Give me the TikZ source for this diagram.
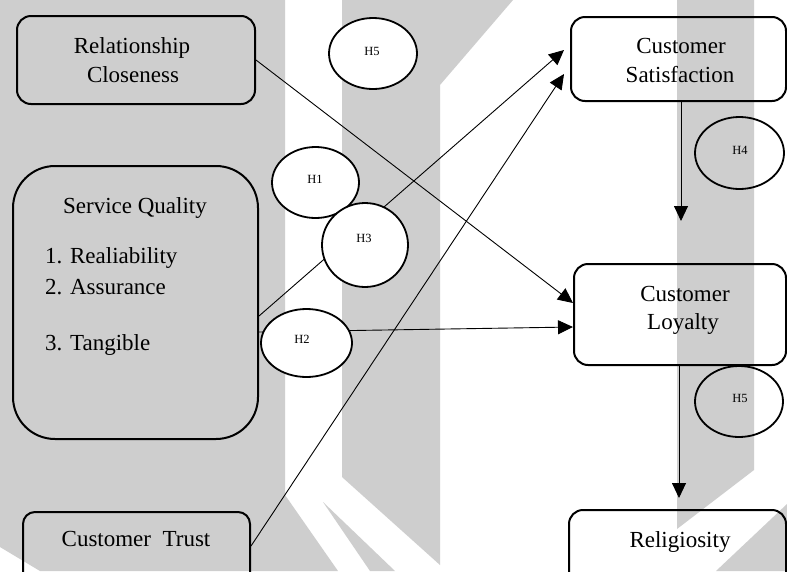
\documentclass[tikz,border=0pt]{standalone}
\usepackage{fontspec}
\setmainfont{Liberation Serif}
\usetikzlibrary{arrows.meta,shapes.geometric}
\definecolor{wmgray}{RGB}{206,206,206}
\begin{document}
\begin{tikzpicture}[x=1pt,y=-1pt,
  box/.style={draw, line width=2pt, rounded corners=14pt, inner sep=0pt, anchor=north west},
  txt/.style={font=\fontsize{23}{28}\selectfont, inner sep=0pt, anchor=base},
  hyp/.style={ellipse, draw, line width=1.8pt, inner sep=0pt},
  hlab/.style={font=\fontsize{12.5}{14}\selectfont, inner sep=0pt},
  conn/.style={draw, line width=0.9pt, -{Triangle[length=15pt,width=14pt]}}]
\useasboundingbox (0,0) rectangle (787,571);
\clip (0,0) rectangle (787,571);
\fill[white] (0,0) rectangle (787,571);

% watermark shapes in the background
\fill[wmgray] (0,0) -- (285,0) -- (285,495) -- (338,571) -- (40,571) -- (0,547) -- cycle;
\fill[wmgray] (342,0) -- (513,0) -- (440,85) -- (440,565) -- (342,477) -- cycle;
\fill[wmgray] (323,502) -- (370,571) -- (395,571) -- cycle;
\fill[wmgray] (677,0) -- (754,0) -- (754,470) -- (677,529) -- cycle;
\fill[wmgray] (787,504) -- (787,571) -- (716,571) -- cycle;

% construct boxes
\node[box, minimum width=238pt, minimum height=88pt] (rc) at (16,15) {};
\node[box, rounded corners=42pt, minimum width=245pt, minimum height=273pt] (sq) at (12,165) {};
\node[box, rounded corners=12pt, minimum width=227pt, minimum height=90pt] (ct) at (22,511) {};
\node[box, minimum width=215pt, minimum height=84pt] (cs) at (570,16) {};
\node[box, minimum width=212pt, minimum height=101pt] (cl) at (573,263) {};
\node[box, minimum width=217pt, minimum height=90pt] (rel) at (568,509) {};

% box texts
\node[txt] (rc1) at (132,53) {Relationship};
\node[txt] (rc2) at (133,82) {Closeness};
\node[txt] (sqt) at (135,213) {Service Quality};
\node[txt, anchor=base west] (sq1) at (45,263) {1. Realiability};
\node[txt, anchor=base west] (sq2) at (45,294) {2. Assurance};
\node[txt, anchor=base west] (sq3) at (45,350) {3. Tangible};
\node[txt] (ctt) at (136,546) {Customer\ \ Trust};
\node[txt] (cs1) at (681,53) {Customer};
\node[txt] (cs2) at (680,82) {Satisfaction};
\node[txt] (cl1) at (685,301) {Customer};
\node[txt] (cl2) at (683,329) {Loyalty};
\node[txt] (relt) at (680,547) {Religiosity};

% paths between constructs
\draw[conn] (rc.east) -- ([yshift=11.5pt]cl.west);
\draw[conn] ([yshift=-13.5pt]sq.east) -- ([xshift=-6pt,yshift=9pt]cs.west);
\draw[conn] ([yshift=-29.5pt]sq.east) -- ([yshift=-12.5pt]cl.west);
\draw[conn] ([yshift=11pt]ct.east) -- ([xshift=-6pt,yshift=-15pt]cs.west);
\draw[conn, shorten >=42pt] ([xshift=2.5pt]cs.south) -- ([xshift=1pt]cl.north);
\draw[conn, shorten >=11pt] ([xshift=-1pt]cl.south) -- ([xshift=1.5pt]rel.north);

% hypothesis ellipses
\node[hyp, fill=white, minimum width=88pt, minimum height=71pt] (h5a) at (373,53.5) {};
\node[hyp, fill=white, minimum width=87pt, minimum height=71pt] (h1) at (315.5,182.5) {};
\node[hyp, fill=white, minimum width=86pt, minimum height=84pt] (h3) at (365,245) {};
\node[hyp, fill=white, minimum width=91pt, minimum height=68pt] (h2) at (306.5,343) {};
\node[hyp, minimum width=89pt, minimum height=72pt] (h4) at (739.5,153) {};
\node[hyp, minimum width=88pt, minimum height=71pt] (h5b) at (739,401.5) {};

\node[hlab] (l5a) at (372,51) {H5};
\node[hlab] (l1) at (315,179) {H1};
\node[hlab] (l3) at (364,238) {H3};
\node[hlab] (l2) at (302,339) {H2};
\node[hlab] (l4) at (740,150) {H4};
\node[hlab] (l5b) at (740,398) {H5};
\end{tikzpicture}
\end{document}
